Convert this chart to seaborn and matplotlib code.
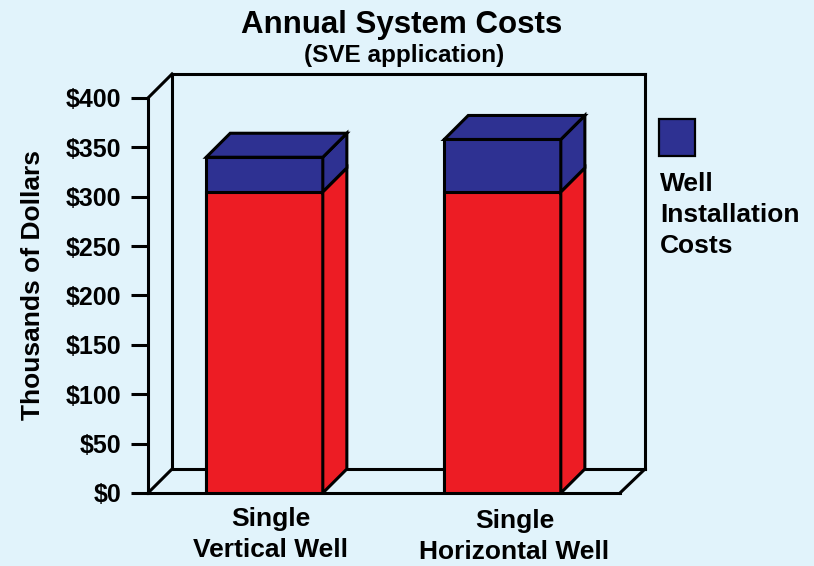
import numpy as np
import pandas as pd
import matplotlib.pyplot as plt
import seaborn as sns
import matplotlib.transforms as mtransforms
from matplotlib.patches import Polygon, Rectangle

# values (thousands of dollars)
categories = ["Single\nVertical Well", "Single\nHorizontal Well"]
base_costs = [305, 305]
well_costs = [35, 53]
y_ticks = [0, 50, 100, 150, 200, 250, 300, 350, 400]
y_tick_labels = [f"${v}" for v in y_ticks]

BG = "#E1F3FB"
RED = "#ED1C24"
BLUE = "#2E3192"
LW = 2.2

sns.set_theme(style="white")
plt.rcParams["font.family"] = ["Liberation Sans", "DejaVu Sans"]
plt.rcParams["font.weight"] = "bold"

df = pd.DataFrame({"well": categories, "base": base_costs, "install": well_costs})
df["total"] = df["base"] + df["install"]

fig = plt.figure(figsize=(8.14, 5.66), dpi=100, facecolor=BG)
ax = fig.add_axes([148 / 814, 73 / 566, 497 / 814, 420 / 566])
ax.set_facecolor(BG)

# front faces: full stack in blue, base in red on top of it
sns.barplot(data=df, x="well", y="total", color=BLUE, saturation=1, width=0.49,
            edgecolor="black", linewidth=LW, ax=ax, zorder=3)
blue_bars = list(ax.patches)
sns.barplot(data=df, x="well", y="base", color=RED, saturation=1, width=0.49,
            edgecolor="black", linewidth=LW, ax=ax, zorder=3)
red_bars = list(ax.patches)[len(blue_bars):]

xmin, xmax = -0.4895, 1.5987
ymax = 425.3
dx, dy = 0.101, 24.3  # depth of the fake 3d box
ax.set_xlim(xmin, xmax)
ax.set_ylim(0, ymax)

# 3d sides and tops of the bars
for b, r in zip(blue_bars, red_bars):
    x0, w = b.get_x(), b.get_width()
    x1 = x0 + w
    top, base = b.get_height(), r.get_height()
    kw = dict(edgecolor="black", linewidth=LW, zorder=3, joinstyle="miter")
    ax.add_patch(Polygon([(x1, 0), (x1 + dx, dy), (x1 + dx, base + dy), (x1, base)],
                         facecolor=RED, **kw))
    ax.add_patch(Polygon([(x1, base), (x1 + dx, base + dy), (x1 + dx, top + dy), (x1, top)],
                         facecolor=BLUE, **kw))
    ax.add_patch(Polygon([(x0, top), (x1, top), (x1 + dx, top + dy), (x0 + dx, top + dy)],
                         facecolor=BLUE, **kw))

# box walls and floor
front_right = xmin + 1.983
lines = [
    ([xmin, xmin + dx], [0, dy]),
    ([xmin, xmin + dx], [400, 400 + dy]),
    ([xmin + dx, xmin + dx], [dy, 400 + dy]),
    ([xmin + dx, xmax], [400 + dy, 400 + dy]),
    ([xmin + dx, xmax], [dy, dy]),
    ([xmax, xmax], [dy, 400 + dy]),
    ([front_right, xmax], [0, dy]),
]
for xs, ys in lines:
    ax.plot(xs, ys, color="black", lw=LW, zorder=1, clip_on=False,
            solid_capstyle="projecting")

for side in ["top", "right"]:
    ax.spines[side].set_visible(False)
ax.spines["left"].set_bounds(0, 400)
ax.spines["bottom"].set_bounds(xmin, front_right)
for side in ["left", "bottom"]:
    ax.spines[side].set_color("black")
    ax.spines[side].set_linewidth(LW)
    ax.spines[side].set_zorder(2)

ax.set_yticks(y_ticks, y_tick_labels)
ax.tick_params(axis="y", left=True, length=12, width=LW, color="black", pad=7,
               labelsize=18, labelcolor="black")
ax.set_xticks([0, 1], categories)
ax.tick_params(axis="x", bottom=False, length=0, pad=10, labelsize=19,
               labelcolor="black")
offsets = [(6, 0), (12, -2)]
for lab, (ox, oy) in zip(ax.get_xticklabels(), offsets):
    lab.set_transform(lab.get_transform() +
                      mtransforms.ScaledTranslation(ox / 100, oy / 100, fig.dpi_scale_trans))
    lab.set_fontweight("bold")
    lab.set_linespacing(1.38)
for lab in ax.get_yticklabels():
    lab.set_fontweight("bold")

ax.set_xlabel("")
ax.set_ylabel("Thousands of Dollars", fontsize=19, fontweight="bold", color="black")
ax.yaxis.set_label_coords(-0.231, 0.495)
ax.yaxis.label.set_va("center")

fig.text(402 / 814, 1 - 33 / 566, "Annual System Costs", ha="center", va="baseline",
         fontsize=22.5, fontweight="bold", color="black")
fig.text(404 / 814, 1 - 62 / 566, "(SVE application)", ha="center", va="baseline",
         fontsize=17.5, fontweight="bold", color="black")

# legend
fig.add_artist(Rectangle((659 / 814, 1 - 156 / 566), 36 / 814, 37 / 566,
                         transform=fig.transFigure, facecolor=BLUE,
                         edgecolor="black", linewidth=1.6))
fig.text(660 / 814, 1 - 172 / 566, "Well\nInstallation\nCosts", ha="left", va="top",
         fontsize=19, fontweight="bold", color="black", linespacing=1.36)

fig.savefig("out.png", dpi=100, facecolor=BG)
